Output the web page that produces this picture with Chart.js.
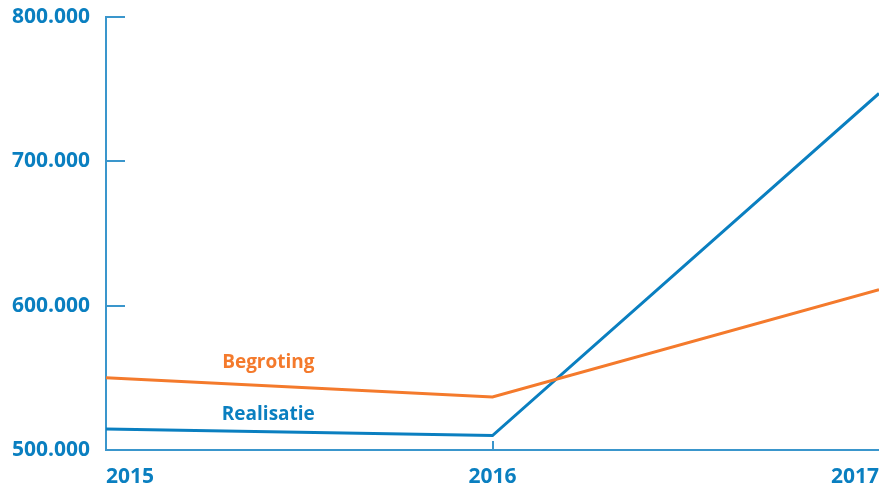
<!DOCTYPE html>
<html>
<head>
<meta charset="utf-8">
<script src="https://cdn.jsdelivr.net/npm/chart.js@4/dist/chart.umd.min.js"></script>
<style>
  html, body { margin: 0; padding: 0; background: #fff; }
  #wrap { width: 879px; height: 483px; }
</style>
</head>
<body>
<div id="wrap"><canvas id="chart"></canvas></div>
<script>
// data
const years = ['2015', '2016', '2017'];
const begroting = [550000, 536700, 611000];
const realisatie = [514500, 510000, 747000];
const yTicks = [500000, 600000, 700000, 800000];

const BLUE = '#0a7fc0';
const AXIS = '#3a96cc';
const ORANGE = '#f47a2c';
const FONT = "'Open Sans', sans-serif";

// dutch thousands separator
function fmt(v) {
  return String(v).replace(/\B(?=(\d{3})+(?!\d))/g, '.');
}

// no extra room for half labels at the ends of the axes
function noPad(scale) {
  scale.paddingTop = 0;
  scale.paddingBottom = 0;
  scale.paddingLeft = 0;
  scale.paddingRight = 0;
}

// inner tick marks + series names
const decorations = {
  id: 'decorations',
  afterDatasetsDraw(chart) {
    const { ctx, chartArea, scales } = chart;
    const x = scales.x, y = scales.y;
    ctx.save();
    ctx.strokeStyle = AXIS;
    ctx.lineWidth = 2;
    yTicks.slice(1).forEach(v => {
      const py = Math.round(y.getPixelForValue(v));
      ctx.beginPath();
      ctx.moveTo(chartArea.left, py);
      ctx.lineTo(chartArea.left + 19, py);
      ctx.stroke();
    });
    for (let i = 1; i < years.length - 1; i++) {
      const px = Math.round(x.getPixelForValue(i));
      ctx.beginPath();
      ctx.moveTo(px, chartArea.bottom);
      ctx.lineTo(px, chartArea.bottom - 9);
      ctx.stroke();
    }

    // series names sit above their lines, left of 2016
    const x0 = x.getPixelForValue(0), x1 = x.getPixelForValue(1);
    const lx = x0 + (x1 - x0) * 0.42;
    ctx.font = 'bold 19px ' + FONT;
    ctx.textAlign = 'center';
    ctx.textBaseline = 'alphabetic';
    ctx.fillStyle = ORANGE;
    ctx.fillText('Begroting', lx, y.getPixelForValue(begroting[0]) - 10);
    ctx.fillStyle = BLUE;
    ctx.fillText('Realisatie', lx, y.getPixelForValue(realisatie[0]) - 9);
    ctx.restore();
  }
};

const chart = new Chart(document.getElementById('chart'), {
  type: 'line',
  data: {
    labels: years,
    datasets: [
      {
        label: 'Begroting',
        data: begroting,
        borderColor: ORANGE,
        borderWidth: 3,
        pointRadius: 0,
        tension: 0
      },
      {
        label: 'Realisatie',
        data: realisatie,
        borderColor: BLUE,
        borderWidth: 3,
        pointRadius: 0,
        tension: 0
      }
    ]
  },
  options: {
    responsive: true,
    maintainAspectRatio: false,
    animation: false,
    layout: { padding: { top: 17, right: 0, left: 0, bottom: 0 } },
    plugins: {
      legend: { display: false },
      tooltip: { enabled: false }
    },
    scales: {
      x: {
        offset: false,
        border: { display: true, color: AXIS, width: 2 },
        grid: { display: false, drawTicks: false },
        ticks: {
          align: 'inner',
          padding: 14,
          color: BLUE,
          font: { family: FONT, size: 21, weight: 'bold' },
          maxRotation: 0
        },
        afterFit(scale) { scale.height = 33; noPad(scale); }
      },
      y: {
        min: 500000,
        max: 800000,
        border: { display: true, color: AXIS, width: 2 },
        grid: { display: false, drawTicks: false },
        afterBuildTicks(scale) {
          scale.ticks = yTicks.map(v => ({ value: v }));
        },
        ticks: {
          padding: 16,
          color: BLUE,
          font: { family: FONT, size: 21, weight: 'bold' },
          callback: v => fmt(v)
        },
        afterFit(scale) { scale.width = 106; noPad(scale); }
      }
    }
  },
  plugins: [decorations]
});
</script>
</body>
</html>
